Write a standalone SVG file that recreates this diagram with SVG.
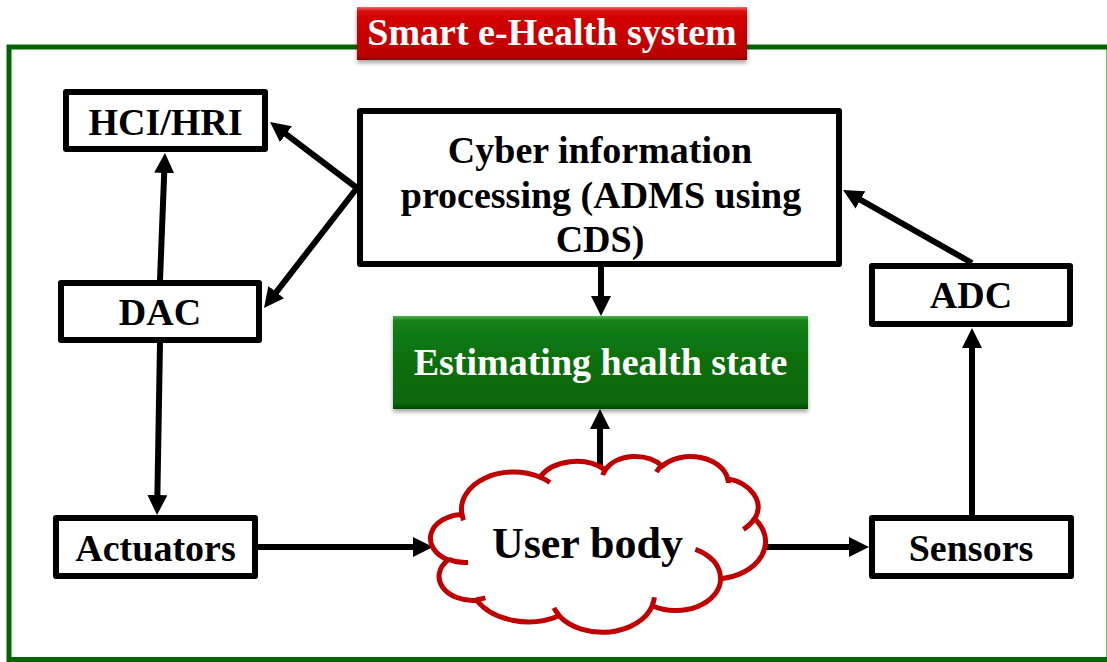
<svg xmlns="http://www.w3.org/2000/svg" width="1107" height="662" viewBox="0 0 1107 662">
  <style>
    .box { fill: #ffffff; stroke: #000000; stroke-width: 6; stroke-linejoin: round; }
    .lbl { font-family: "Liberation Serif", "Times New Roman", serif; font-weight: bold; font-size: 38px; fill: #000000; text-anchor: middle; }
    .wlbl { font-family: "Liberation Serif", "Times New Roman", serif; font-weight: bold; font-size: 38px; fill: #ffffff; text-anchor: middle; }
    .conn { stroke: #000000; stroke-width: 6; fill: none; marker-end: url(#arrow); }
    .cloud { fill: #ffffff; stroke: #c00000; stroke-width: 5; vector-effect: non-scaling-stroke; }
    .hook { fill: none; stroke: #c00000; stroke-width: 5; vector-effect: non-scaling-stroke; }
  </style>
  <defs>
    <marker id="arrow" viewBox="0 0 20 20" refX="5" refY="10" markerWidth="20" markerHeight="20" markerUnits="userSpaceOnUse" orient="auto">
      <path d="M0,0 L20,10 L0,20 Z" fill="#000000"/>
    </marker>
    <linearGradient id="redFill" x1="0" y1="0" x2="0" y2="1">
      <stop offset="0" stop-color="#f26a6a"/>
      <stop offset="0.08" stop-color="#d80808"/>
      <stop offset="0.5" stop-color="#c80000"/>
      <stop offset="0.92" stop-color="#bb0000"/>
      <stop offset="1" stop-color="#8c0000"/>
    </linearGradient>
    <linearGradient id="greenFill" x1="0" y1="0" x2="0" y2="1">
      <stop offset="0" stop-color="#4cb44c"/>
      <stop offset="0.05" stop-color="#14801a"/>
      <stop offset="0.5" stop-color="#0a6e0e"/>
      <stop offset="0.94" stop-color="#076608"/>
      <stop offset="1" stop-color="#034a04"/>
    </linearGradient>
    <filter id="shadow" x="-5%" y="-20%" width="110%" height="150%">
      <feDropShadow dx="0" dy="3" stdDeviation="2" flood-color="#000000" flood-opacity="0.35"/>
    </filter>
  </defs>

  <rect width="1107" height="662" fill="#ffffff"/>

  <!-- system frame -->
  <rect id="frame" x="9" y="47" width="1100" height="612.5" fill="none" stroke="#006400" stroke-width="5"/>

  <!-- title banner -->
  <g id="title">
    <rect x="357" y="7" width="390" height="53" fill="url(#redFill)" filter="url(#shadow)"/>
    <text x="552" y="45" class="wlbl">Smart e-Health system</text>
  </g>

  <!-- connectors -->
  <g id="connectors">
    <line class="conn" x1="357" y1="188" x2="282" y2="131.1"/>
    <line class="conn" x1="357" y1="188" x2="273.2" y2="296.1"/>
    <line class="conn" x1="160" y1="280" x2="164.4" y2="168"/>
    <line class="conn" x1="160" y1="343" x2="157.3" y2="500"/>
    <line class="conn" x1="601" y1="267" x2="601" y2="301"/>
    <line class="conn" x1="600" y1="472" x2="600" y2="424"/>
    <line class="conn" x1="258" y1="547" x2="418" y2="547"/>
    <line class="conn" x1="755" y1="547" x2="854" y2="547"/>
    <line class="conn" x1="972" y1="515" x2="972" y2="343"/>
    <line class="conn" x1="972" y1="263" x2="856.1" y2="197.4"/>
  </g>

  <g id="hci">
    <rect class="box" x="66" y="92" width="199" height="57"/>
    <text class="lbl" x="165.5" y="135">HCI/HRI</text>
  </g>

  <g id="dac">
    <rect class="box" x="61" y="283" width="198" height="57"/>
    <text class="lbl" x="160" y="325">DAC</text>
  </g>

  <g id="actuators">
    <rect class="box" x="56" y="518" width="199" height="58"/>
    <text class="lbl" x="155.5" y="561">Actuators</text>
  </g>

  <g id="cyber">
    <rect class="box" x="360" y="111" width="479" height="153"/>
    <text class="lbl" x="600" y="163">Cyber information</text>
    <text class="lbl" x="601" y="208">processing (ADMS using</text>
    <text class="lbl" x="600" y="252">CDS)</text>
  </g>

  <g id="estimate">
    <rect x="393" y="316" width="415" height="93" fill="url(#greenFill)" filter="url(#shadow)"/>
    <text class="wlbl" x="600.5" y="375">Estimating health state</text>
  </g>

  <g id="adc">
    <rect class="box" x="872" y="266" width="198" height="58"/>
    <text class="lbl" x="971" y="308">ADC</text>
  </g>

  <g id="sensors">
    <rect class="box" x="872" y="518" width="199" height="58"/>
    <text class="lbl" x="971" y="561">Sensors</text>
  </g>

  <!-- cloud outline, drawn in a 43200 x 43200 unit space -->
  <g id="userbody">
    <g transform="translate(431.8,455.9) scale(0.007722,0.0040695)">
      <path class="cloud" d="M3900,14370 A6753,9190 0 0 1 14005,5202 A5333,7267 0 0 1 22457,3433 A4365,5945 0 0 1 29834,2482 A4857,6595 0 0 1 38319,5577 A5333,7273 0 0 1 41819,15460 A6775,9220 0 0 1 37404,30202 A5785,7867 0 0 1 28556,36812 A6752,9215 0 0 1 16482,39265 A7720,10543 0 0 1 5806,35470 A4360,5918 0 0 1 2114,25549 A4345,5945 0 0 1 3900,14370 Z"/>
      <path class="hook" d="M4693,26177 A4345,5945 0 0 1 2160,25380 M6928,34899 A4360,5918 0 0 1 5819,35281 M16478,39090 A6752,9215 0 0 1 15809,37348 M28827,34751 A6752,9215 0 0 1 28560,36660 M34129,22954 A5785,7867 0 0 1 37381,30090 M41798,15354 A5333,7273 0 0 1 40350,18031 M38324,5426 A4857,6595 0 0 1 38400,6690 M29078,3952 A4857,6595 0 0 1 29819,2342 M22141,4720 A4365,5945 0 0 1 22500,3330 M14000,5192 A6753,9190 0 0 1 15301,6542 M4127,15789 A6753,9190 0 0 1 3833,13747"/>
    </g>
    <text class="lbl" x="587.5" y="558" style="font-size:44px">User body</text>
  </g>
</svg>
